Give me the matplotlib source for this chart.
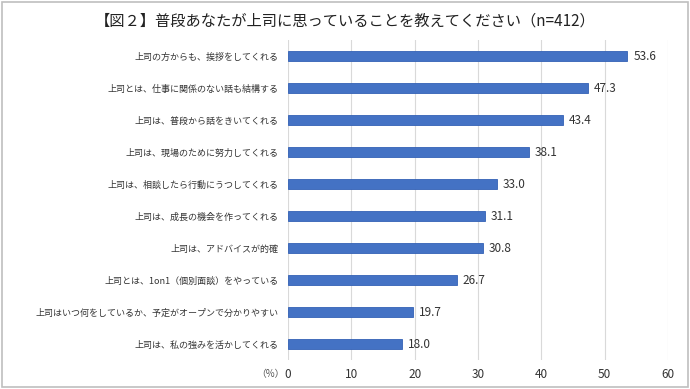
import matplotlib.pyplot as plt
from matplotlib.patches import Rectangle

plt.rcParams['font.family'] = ['Noto Sans CJK JP', 'DejaVu Sans']

labels = [
    "上司の方からも、挨拶をしてくれる",
    "上司とは、仕事に関係のない話も結構する",
    "上司は、普段から話をきいてくれる",
    "上司は、現場のために努力してくれる",
    "上司は、相談したら行動にうつしてくれる",
    "上司は、成長の機会を作ってくれる",
    "上司は、アドバイスが的確",
    "上司とは、1on1（個別面談）をやっている",
    "上司はいつ何をしているか、予定がオープンで分かりやすい",
    "上司は、私の強みを活かしてくれる",
]
values = [53.6, 47.3, 43.4, 38.1, 33.0, 31.1, 30.8, 26.7, 19.7, 18.0]
xticks = [0, 10, 20, 30, 40, 50, 60]

fig = plt.figure(figsize=(6.9, 3.89), dpi=100)
ax = fig.add_axes([288/690, 1 - 360/389, 380/690, 320/389])

y = list(range(len(values)))
ax.barh(y, values, height=0.34, color='#4472C4', edgecolor='#3461B5', linewidth=0.6, zorder=3)
for yi, v in zip(y, values):
    ax.text(v + 0.9, yi, f"{v:.1f}", va='center', ha='left', fontsize=8.5, color='#333333')

ax.set_ylim(len(values) - 0.5, -0.5)
ax.set_xlim(0, 60)
ax.set_yticks(y)
ax.set_yticklabels(labels, fontsize=6.5, color='#333333')
ax.set_xticks(xticks)
ax.set_xticklabels([str(t) for t in xticks], fontsize=8.5, color='#333333')
ax.tick_params(length=0)
ax.tick_params(axis='y', pad=7)
ax.tick_params(axis='x', pad=6)
ax.grid(axis='x', color='#d9d9d9', linewidth=0.8, zorder=0)
for s in ax.spines.values():
    s.set_visible(False)

fig.text(270/690, 1 - 374/389, "（%）", fontsize=7, color='#555555', ha='center', va='center')
fig.text(0.5, 1 - 21/389, "【図２】普段あなたが上司に思っていることを教えてください（n=412）",
         fontsize=11, ha='center', va='center', color='#222222')

fig.patches.append(Rectangle((2/690, 2/389), 686/690, 385/389, transform=fig.transFigure,
                             fill=False, edgecolor='#bfbfbf', linewidth=1.2))

fig.savefig('out.png', dpi=100)
